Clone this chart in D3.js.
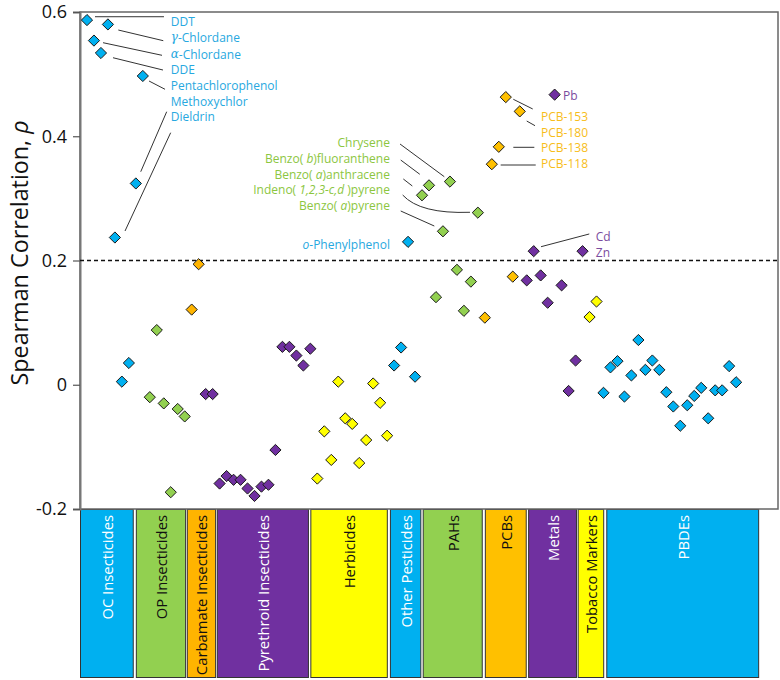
<!DOCTYPE html>
<html><head><meta charset="utf-8">
<script src="https://cdn.jsdelivr.net/npm/d3@7"></script>
<style>body{margin:0;background:#fff}svg{display:block}text{font-family:"Open Sans",sans-serif}</style>
</head><body><svg id="c" width="780" height="680"></svg>
<script>
// ---- data ----
const categories = ["OC Insecticides","OP Insecticides","Carbamate Insecticides","Pyrethroid Insecticides","Herbicides","Other Pesticides","PAHs","PCBs","Metals","Tobacco Markers","PBDEs"];
const categoryCounts = [9,6,2,16,11,4,9,6,9,2,20];
const categoryColors = ["#00b0f0","#92d050","#ffb400","#7030a0","#ffff00","#00b0f0","#92d050","#ffc000","#7030a0","#ffff00","#00b0f0"];
const categoryTextColors = ["#fff","#111","#111","#fff","#111","#fff","#111","#111","#fff","#111","#fff"];
const barStart = [0,8.0,15.3,19.6,33.0,44.4,49.1,58.0,64.2,71.3,75.4];
const barEnd   = [7.7,15.2,19.5,32.8,44.1,48.9,57.7,64.0,71.2,75.1,97.3];
// Spearman rho per chemical, in x-index order 1..94
const rho = [
 0.587,0.554,0.534,0.580,0.237,0.005,0.035,0.324,0.497,
 -0.020,0.088,-0.030,-0.173,-0.039,-0.051,
 0.121,0.194,
 -0.015,-0.015,-0.159,-0.147,-0.153,-0.153,-0.167,-0.179,-0.164,-0.161,-0.105,0.061,0.061,0.047,0.031,0.058,
 -0.151,-0.075,-0.121,0.005,-0.054,-0.063,-0.126,-0.089,0.002,-0.029,-0.082,
 0.031,0.060,0.230,0.013,
 0.305,0.321,0.141,0.247,0.327,0.185,0.119,0.166,0.277,
 0.108,0.355,0.383,0.463,0.174,0.440,
 0.168,0.215,0.176,0.132,0.467,0.160,-0.010,0.039,0.215,
 0.109,0.134,
 -0.013,0.028,0.038,-0.019,0.015,0.072,0.024,0.039,0.024,-0.012,-0.035,-0.066,-0.033,-0.018,-0.005,-0.054,-0.009,-0.009,0.030,0.004
];
const yTicks = [-0.2,0,0.2,0.4,0.6];
const yTickLabels = ["-0.2","0","0.2","0.4","0.6"];
const threshold = 0.2;
// annotations: [text, x, y, anchor, color key]
const labelColors = {blue:"#27a8e0", green:"#8cc63f", orange:"#f7bd1a", purple:"#7a4b9e"};
const labels = [
 ["DDT",13.0,0.585,"start","blue"],["γ-Chlordane",13.0,0.559,"start","blue"],["α-Chlordane",13.0,0.533,"start","blue"],
 ["DDE",13.0,0.507,"start","blue"],["Pentachlorophenol",13.0,0.481,"start","blue"],["Methoxychlor",13.0,0.456,"start","blue"],["Dieldrin",13.0,0.431,"start","blue"],
 ["Chrysene",44.4,0.390,"end","green"],["Benzo( b)fluoranthene",44.4,0.3645,"end","green"],["Benzo( a)anthracene",44.4,0.339,"end","green"],
 ["Indeno( 1,2,3-c,d )pyrene",44.4,0.3145,"end","green"],["Benzo( a)pyrene",44.4,0.289,"end","green"],["o-Phenylphenol",44.4,0.227,"end","blue"],
 ["PCB-153",66.05,0.4315,"start","orange"],["PCB-180",66.05,0.4068,"start","orange"],["PCB-138",66.05,0.3822,"start","orange"],["PCB-118",66.05,0.3565,"start","orange"],
 ["Pb",69.2,0.4653,"start","purple"],["Cd",73.9,0.2383,"start","purple"],["Zn",73.9,0.2126,"start","purple"]
];
// leader lines [x1,y1,x2,y2] (data units)
const leaders = [
 [2.15,0.5924,12.03,0.5924],[5.49,0.5710,11.93,0.5538],[3.30,0.5506,11.75,0.5303],[4.73,0.5264,11.89,0.5066],
 [9.89,0.4889,12.18,0.4756],[12.42,0.4395,8.70,0.3429],[12.99,0.4057,6.45,0.2475],
 [45.85,0.3875,52.19,0.3349],[45.95,0.3617,48.68,0.3388],[46.32,0.3312,47.61,0.3199],[45.95,0.2797,50.76,0.2555],
 [62.08,0.4595,64.86,0.4439],[64.0,0.4245,65.19,0.4170],[62.08,0.3822,65.09,0.3822],[60.27,0.3537,65.29,0.3537],
 [66.05,0.2222,72.96,0.2427]
];
const curvedLeader = [46.23,0.3054,48.71,0.2748,55.87,0.2776];

// ---- drawing ----
const svg = d3.select("#c");
const L=80,R=778,T=12,B=509;
const x = d3.scaleLinear().domain([0,100]).range([L,R]);
const y = d3.scaleLinear().domain([-0.2,0.6]).range([B,T]);

// category bars
const cumStart = []; let acc=1;
categoryCounts.forEach(c=>{cumStart.push(acc); acc+=c;});
const bars = svg.append("g");
categories.forEach((c,i)=>{
  const x0=x(barStart[i]), x1=x(barEnd[i]);
  bars.append("rect").attr("x",x0+0.5).attr("y",B+0.5).attr("width",x1-x0-1).attr("height",678-B-1)
    .attr("fill",categoryColors[i]).attr("stroke","#333").attr("stroke-width",1);
  const cx=(x0+x1)/2;
  bars.append("text").attr("transform",`translate(${cx},${B+6}) rotate(-90)`)
    .attr("text-anchor","end").attr("dominant-baseline","central")
    .attr("font-size",14.8).attr("fill",categoryTextColors[i]).text(c);
});

// frame
svg.append("rect").attr("x",L).attr("y",T).attr("width",R-L).attr("height",B-T)
  .attr("fill","none").attr("stroke","#666").attr("stroke-width",1.5);

// y axis
const ax = svg.append("g").attr("transform",`translate(${L},0)`)
  .call(d3.axisLeft(y).tickValues(yTicks).tickFormat((d,i)=>yTickLabels[i]).tickSize(7).tickPadding(6));
ax.select(".domain").attr("stroke","#777").attr("stroke-width",2);
ax.selectAll(".tick line").attr("stroke","#555").attr("stroke-width",1.2);
ax.selectAll(".tick text").attr("font-size",18).attr("fill","#111").style("font-family","'Open Sans',sans-serif");

// axis title
const tt = svg.append("text").attr("transform",`translate(19,253) rotate(-90)`)
  .attr("text-anchor","middle").attr("dominant-baseline","central").attr("font-size",23.3).attr("fill","#111");
tt.append("tspan").text("Spearman Correlation, ");
tt.append("tspan").attr("font-style","italic").text("ρ");

// threshold line
svg.append("line").attr("x1",L).attr("x2",R).attr("y1",y(threshold)).attr("y2",y(threshold))
  .attr("stroke","#111").attr("stroke-width",1.5).attr("stroke-dasharray","4,3");

// leaders
const lg = svg.append("g").attr("stroke","#333").attr("stroke-width",1).attr("fill","none");
leaders.forEach(l=>lg.append("line").attr("x1",x(l[0])).attr("y1",y(l[1])).attr("x2",x(l[2])).attr("y2",y(l[3])));
const cl=curvedLeader;
lg.append("path").attr("d",`M${x(cl[0])},${y(cl[1])} Q${x(cl[2])},${y(cl[3])} ${x(cl[4])},${y(cl[5])}`);

// points
const catOf = i => { let k=0; while(k<categoryCounts.length-1 && i>=cumStart[k+1]) k++; return k; };
const pts = rho.map((v,i)=>({idx:i+1,v,cat:catOf(i+1)}));
const dia = "M0,-5.6L5.6,0L0,5.6L-5.6,0Z";
svg.append("g").selectAll("path").data(pts).join("path")
  .attr("d",dia).attr("transform",d=>`translate(${x(d.idx)},${y(d.v)})`)
  .attr("fill",d=>categoryColors[d.cat]).attr("stroke","#1a1a1a").attr("stroke-width",1);

// labels
const lbl = svg.append("g");
labels.forEach(l=>{
  const t = lbl.append("text").attr("x",x(l[1])).attr("y",y(l[2])).attr("text-anchor",l[3])
    .attr("dominant-baseline","central").attr("font-size",12).attr("fill",labelColors[l[4]]);
  const s = l[0];
  const m = s.match(/^(.*\()\s?([^)]*)(\).*)$/);
  if (s==="o-Phenylphenol") { t.append("tspan").attr("font-style","italic").text("o"); t.append("tspan").text("-Phenylphenol"); }
  else if (s.startsWith("γ")||s.startsWith("α")) { t.append("tspan").attr("font-style","italic").attr("font-family","'DejaVu Serif',serif").text(s[0]); t.append("tspan").text(s.slice(1)); }
  else if (m) { t.append("tspan").text(m[1]+"\u00a0"); t.append("tspan").attr("font-style","italic").text(m[2]); t.append("tspan").text(m[3]); }
  else t.text(s);
});
</script></body></html>
